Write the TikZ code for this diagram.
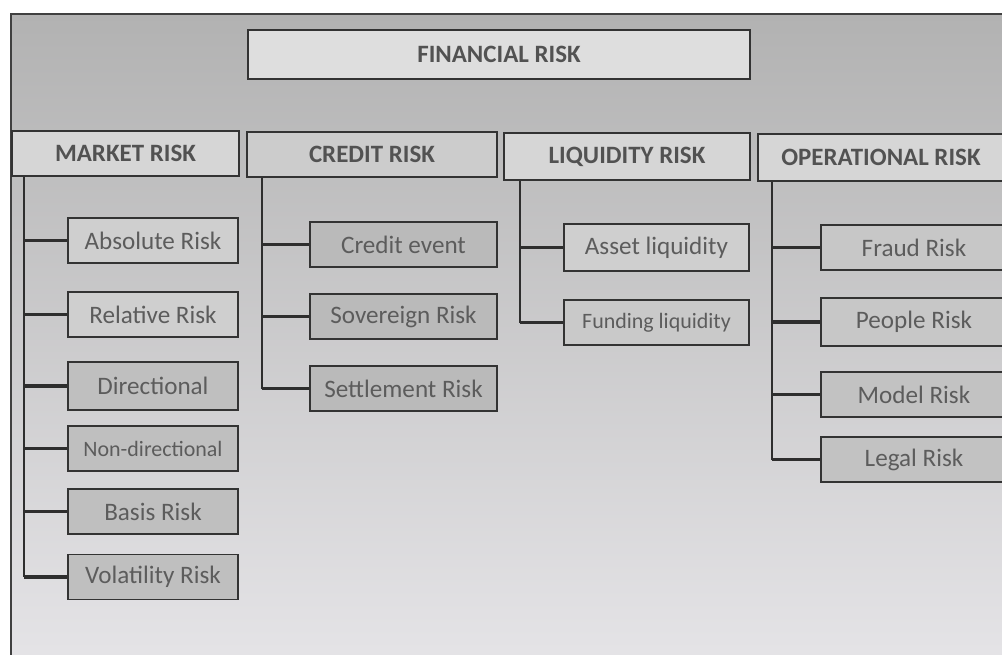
\documentclass[tikz,border=0pt]{standalone}
\usepackage{fontspec}
\setmainfont{Carlito}
\usepackage{xcolor}

\definecolor{bgtop}{HTML}{B2B2B2}
\definecolor{bgmid}{HTML}{D0D0D0}
\definecolor{bgbottom}{HTML}{E5E4E7}

\tikzset{
  head/.style={draw=black!80, line width=1.1pt, fill=black!16, text=black!68,
    inner sep=0pt, font=\fontsize{14.2}{16}\selectfont\bfseries},
  leaf/.style={draw=black!80, line width=1.1pt, fill=black!22, text=black!64,
    inner sep=0pt, minimum height=0.9cm, font=\fontsize{14.3}{16}\selectfont},
  small/.style={font=\fontsize{12.5}{14}\selectfont},
  trunk/.style={black!82, line width=1.3pt},
  branch/.style={black!82, line width=2.2pt},
}

\begin{document}
\begin{tikzpicture}[x=0.02cm, y=-0.02cm]
\useasboundingbox (0,0) rectangle (1002,654);
\clip (0,0) rectangle (1002,654);
\fill[white] (0,0) rectangle (1002,654);

% page background and frame
\shade[top color=bgtop, middle color=bgmid, bottom color=bgbottom] (11,14) rectangle (1012,664);
\draw[black!75, line width=1pt] (11,664) -- (11,14) -- (1012,14);

% top
\node[head, fill=black!13, minimum width=10.04cm, minimum height=0.98cm] (fin) at (499,54.5) {FINANCIAL RISK};

% the four groups
\node[head, minimum width=4.54cm, minimum height=0.9cm] (mkt) at (125.5,153.5) {MARKET RISK};
\node[head, fill=black!20, minimum width=5.0cm, minimum height=0.9cm] (cred) at (372,154.5) {CREDIT RISK};
\node[head, minimum width=4.92cm, minimum height=0.94cm] (liq) at (627,156.5) {LIQUIDITY RISK};
\node[head, minimum width=4.92cm, minimum height=0.94cm] (oper) at (881,157.5) {OPERATIONAL RISK};

% market risk
\node[leaf, fill=black!19, minimum width=3.4cm] (abs) at (153,240.5) {Absolute Risk};
\node[leaf, fill=black!19, minimum width=3.4cm] (rel) at (153,314.5) {Relative Risk};
\node[leaf, fill=black!25, minimum width=3.4cm, minimum height=0.96cm] (dir) at (153,386) {Directional};
\node[leaf, small, fill=black!25, minimum width=3.4cm] (nondir) at (153,448.5) {Non-directional};
\node[leaf, fill=black!25, minimum width=3.4cm] (basis) at (153,511.5) {Basis Risk};
\node[leaf, fill=black!25, minimum width=3.4cm] (vol) at (153,577) {Volatility Risk};

% credit risk
\node[leaf, fill=black!27, minimum width=3.74cm] (event) at (403.5,244.5) {Credit event};
\node[leaf, fill=black!27, minimum width=3.74cm] (sov) at (403.5,316.5) {Sovereign Risk};
\node[leaf, fill=black!27, minimum width=3.74cm] (sett) at (403.5,388.5) {Settlement Risk};

% liquidity risk
\node[leaf, fill=black!19, minimum width=3.7cm, minimum height=0.94cm] (asset) at (656.5,247.5) {Asset liquidity};
\node[leaf, small, fill=black!21, minimum width=3.7cm] (fund) at (656.5,322.5) {Funding liquidity};

% operational risk
\node[leaf, fill=black!22, minimum width=3.72cm] (fraud) at (914,247.5) {Fraud Risk};
\node[leaf, fill=black!22, minimum width=3.72cm, minimum height=0.96cm] (people) at (914,322) {People Risk};
\node[leaf, fill=black!24, minimum width=3.72cm] (model) at (914,394.5) {Model Risk};
\node[leaf, fill=black!24, minimum width=3.72cm] (legal) at (914,459.5) {Legal Risk};

% trunks
\coordinate (mktx) at ([xshift=0.26cm]mkt.south west);
\coordinate (credx) at ([xshift=0.32cm]cred.south west);
\coordinate (liqx) at ([xshift=0.34cm]liq.south west);
\coordinate (operx) at ([xshift=0.30cm]oper.south west);

\draw[trunk] (mktx) -- (mktx |- vol.west);
\draw[trunk] (credx) -- (credx |- sett.west);
\draw[trunk] (liqx) -- (liqx |- fund.west);
\draw[trunk] (operx) -- (operx |- legal.west);

% branches
\foreach \c in {abs,rel,dir,nondir,basis,vol}
  \draw[branch] (mktx |- \c.west) -- (\c.west);
\foreach \c in {event,sov,sett}
  \draw[branch] (credx |- \c.west) -- (\c.west);
\foreach \c in {asset,fund}
  \draw[branch] (liqx |- \c.west) -- (\c.west);
\foreach \c in {fraud,people,model,legal}
  \draw[branch] (operx |- \c.west) -- (\c.west);

\end{tikzpicture}
\end{document}
